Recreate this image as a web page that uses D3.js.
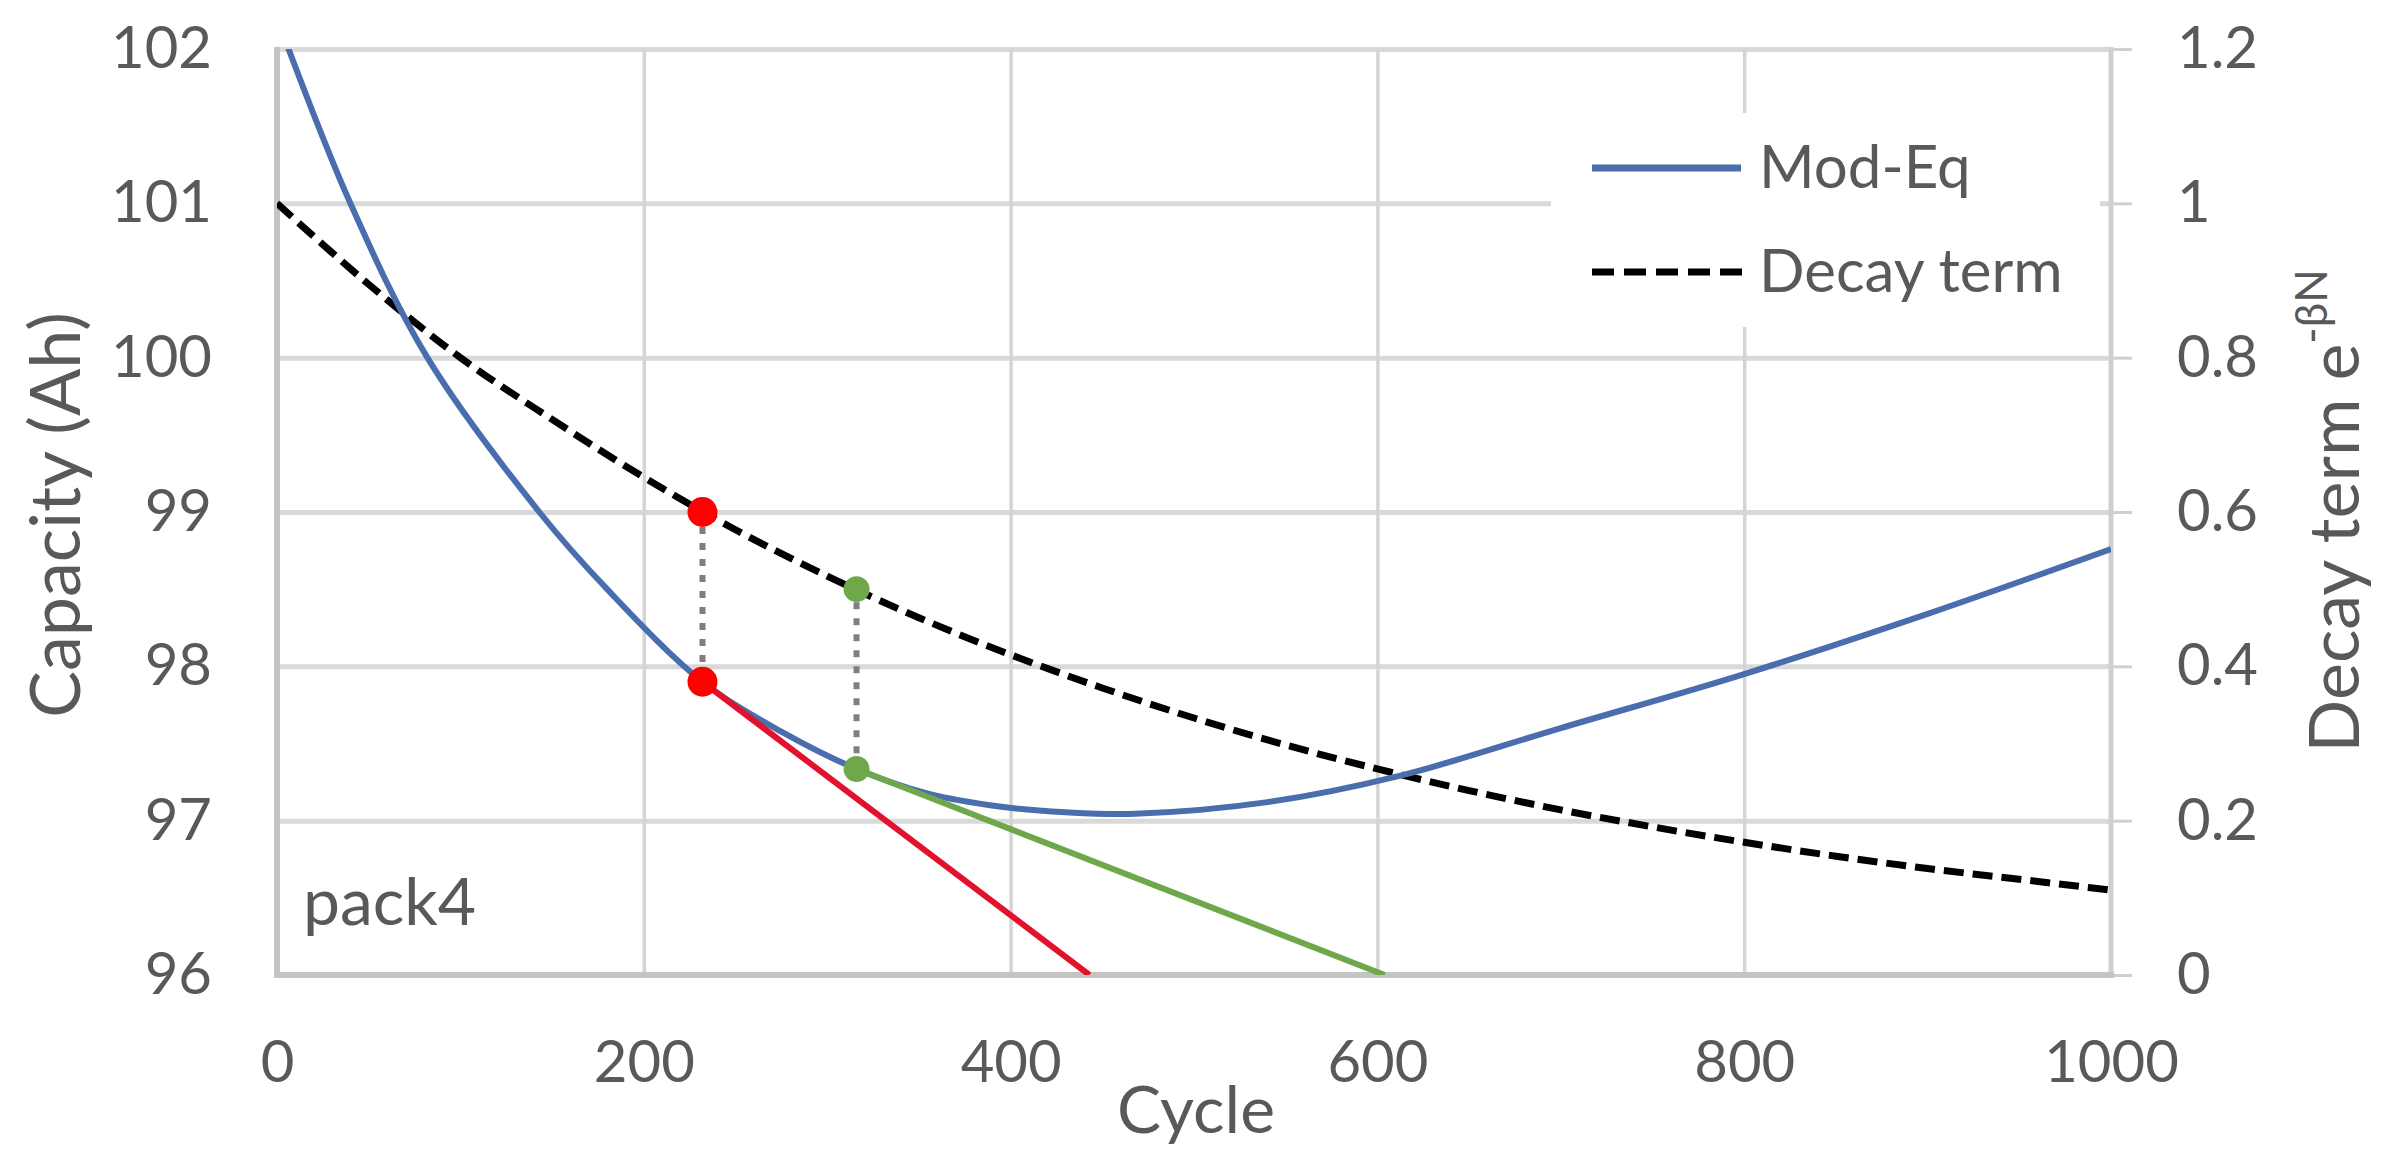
<!DOCTYPE html>
<html>
<head>
<meta charset="utf-8">
<script src="https://cdn.jsdelivr.net/npm/d3@7"></script>
<style>
  html, body { margin: 0; padding: 0; background: #ffffff; }
  svg { display: block; }
  text { font-family: Lato, "Open Sans", sans-serif; fill: #595959; }
</style>
</head>
<body>
<svg id="chart" width="2392" height="1173"></svg>
<script>
// ---------------- DATA ----------------
const xTicks = [0, 200, 400, 600, 800, 1000];
const yLeftTicks = [96, 97, 98, 99, 100, 101, 102];
const yRightTicks = [0, 0.2, 0.4, 0.6, 0.8, 1.0, 1.2];
const yRightLabels = ["0", "0.2", "0.4", "0.6", "0.8", "1", "1.2"];

// Mod-Eq capacity curve (Ah)
const modEqCycles = [0, 40, 82, 143, 180, 232, 276, 316, 355, 395, 430, 468, 540, 612, 700, 800, 900, 1000];
const modEqCap    = [102.2, 101.0, 100.0, 99.0, 98.5, 97.9, 97.57, 97.335, 97.175, 97.09, 97.055, 97.045, 97.12, 97.29, 97.6, 97.95, 98.34, 98.76];

// Decay term (right axis)
const decayCycles = [0, 50, 100, 150, 200, 250, 300, 350, 400, 450, 500, 550, 600, 650, 700, 750, 800, 850, 900, 950, 1000];
const decayValue  = [1.0, 0.895, 0.80, 0.72, 0.645, 0.577, 0.517, 0.463, 0.415, 0.372, 0.333, 0.298, 0.267, 0.239, 0.214, 0.192, 0.172, 0.154, 0.138, 0.124, 0.110];

// Tangent lines (Ah)
const redCycles = [232, 443];
const redCap    = [97.9, 96.0];
const greenCycles = [316, 604];
const greenCap    = [97.335, 96.0];

// Marker points: [cycle, capacity on Mod-Eq, decay value]
const redPoint   = [232, 97.9, 0.6];
const greenPoint = [316, 97.335, 0.5];

const legendLabels = ["Mod-Eq", "Decay term"];
const packLabel = "pack4";

// ---------------- CHART ----------------
const svg = d3.select("#chart");
const L = 277, R = 2111, T = 49, B = 975;

const x  = d3.scaleLinear().domain([0, 1000]).range([L, R]);
const yL = d3.scaleLinear().domain([96, 102]).range([B, T]);
const yR = d3.scaleLinear().domain([0, 1.2]).range([B, T]);

const blue = "#4A6DAD", red = "#E3122C", redDot = "#FF0000", green = "#6FA84A";

svg.append("clipPath").attr("id", "plotclip")
  .append("rect").attr("x", L).attr("y", T).attr("width", R - L).attr("height", B - T);

// horizontal gridlines
svg.append("g")
  .attr("transform", `translate(${L},0)`)
  .call(d3.axisLeft(yL).tickValues(yLeftTicks).tickSize(-(R - L)).tickFormat(""))
  .call(g => g.select(".domain").remove())
  .call(g => g.selectAll("line").attr("stroke", "#d9d9d9").attr("stroke-width", 5));

// vertical gridlines
svg.append("g")
  .attr("transform", `translate(0,${B})`)
  .call(d3.axisBottom(x).tickValues(xTicks.filter(d => d > 0 && d < 1000)).tickSize(-(B - T)).tickFormat(""))
  .call(g => g.select(".domain").remove())
  .call(g => g.selectAll("line").attr("stroke", "#d4d4d4").attr("stroke-width", 3.5));

// left tick labels
svg.append("g")
  .attr("transform", `translate(${L},0)`)
  .call(d3.axisLeft(yL).tickValues(yLeftTicks).tickSize(0).tickPadding(65).tickFormat(d3.format("d")))
  .call(g => g.select(".domain").remove())
  .call(g => g.selectAll("text").attr("font-size", 58).attr("font-family", "Lato").attr("fill", "#595959"));

// bottom tick labels
svg.append("g")
  .attr("transform", `translate(0,${B})`)
  .call(d3.axisBottom(x).tickValues(xTicks).tickSize(0).tickPadding(66).tickFormat(d3.format("d")))
  .call(g => g.select(".domain").remove())
  .call(g => g.selectAll("text").attr("font-size", 58).attr("font-family", "Lato").attr("fill", "#595959"));

// right axis with ticks
svg.append("g")
  .attr("transform", `translate(${R},0)`)
  .call(d3.axisRight(yR).tickValues(yRightTicks).tickSize(21).tickPadding(45)
        .tickFormat((d, i) => yRightLabels[i]))
  .call(g => g.select(".domain").remove())
  .call(g => g.selectAll("line").attr("stroke", "#cfcfcf").attr("stroke-width", 3))
  .call(g => g.selectAll("text").attr("font-size", 58).attr("font-family", "Lato").attr("fill", "#595959"));

// axis lines
svg.append("line").attr("x1", L).attr("x2", L).attr("y1", T - 2).attr("y2", B + 3)
  .attr("stroke", "#c4c4c4").attr("stroke-width", 6);
svg.append("line").attr("x1", R).attr("x2", R).attr("y1", T - 2).attr("y2", B + 3)
  .attr("stroke", "#cfcfcf").attr("stroke-width", 5);
svg.append("line").attr("x1", L - 3).attr("x2", R + 3).attr("y1", B).attr("y2", B)
  .attr("stroke", "#c4c4c4").attr("stroke-width", 6);

// legend background (covers gridlines)
svg.append("rect").attr("x", 1551).attr("y", 113).attr("width", 549).attr("height", 214).attr("fill", "#ffffff");

const plot = svg.append("g").attr("clip-path", "url(#plotclip)");

// decay term (right axis)
const decayLine = d3.line().curve(d3.curveMonotoneX)
  .x((d, i) => x(decayCycles[i])).y(d => yR(d));
plot.append("path").datum(decayValue)
  .attr("d", decayLine)
  .attr("fill", "none").attr("stroke", "#000").attr("stroke-width", 7)
  .attr("stroke-dasharray", "20,9");

// Mod-Eq
const modLine = d3.line().curve(d3.curveCatmullRom.alpha(0.5))
  .x((d, i) => x(modEqCycles[i])).y(d => yL(d));
plot.append("path").datum(modEqCap)
  .attr("d", modLine)
  .attr("fill", "none").attr("stroke", blue).attr("stroke-width", 6);

// tangent lines
const redLine = d3.line().x((d, i) => x(redCycles[i])).y(d => yL(d));
plot.append("path").datum(redCap).attr("d", redLine)
  .attr("fill", "none").attr("stroke", red).attr("stroke-width", 6);
const greenLine = d3.line().x((d, i) => x(greenCycles[i])).y(d => yL(d));
plot.append("path").datum(greenCap).attr("d", greenLine)
  .attr("fill", "none").attr("stroke", green).attr("stroke-width", 6);

// connectors + dots
[[redPoint, redDot, 15], [greenPoint, green, 13]].forEach(([p, col, r]) => {
  svg.append("line")
    .attr("x1", x(p[0])).attr("x2", x(p[0]))
    .attr("y1", yR(p[2]) + r).attr("y2", yL(p[1]) - r)
    .attr("stroke", "#7f7f7f").attr("stroke-width", 6).attr("stroke-dasharray", "7,9");
  svg.append("circle").attr("cx", x(p[0])).attr("cy", yR(p[2])).attr("r", r).attr("fill", col);
  svg.append("circle").attr("cx", x(p[0])).attr("cy", yL(p[1])).attr("r", r).attr("fill", col);
});

// legend
svg.append("line").attr("x1", 1592).attr("x2", 1741).attr("y1", 168).attr("y2", 168)
  .attr("stroke", blue).attr("stroke-width", 7);
svg.append("text").attr("x", 1759).attr("y", 188).attr("font-size", 60).text(legendLabels[0]);
svg.append("line").attr("x1", 1592).attr("x2", 1742).attr("y1", 272).attr("y2", 272)
  .attr("stroke", "#000").attr("stroke-width", 7).attr("stroke-dasharray", "22,10");
svg.append("text").attr("x", 1759).attr("y", 292).attr("font-size", 60).text(legendLabels[1]);

// pack label
svg.append("text").attr("x", 303).attr("y", 925).attr("font-size", 66).text(packLabel);

// axis titles
svg.append("text").attr("x", 1196).attr("y", 1133).attr("text-anchor", "middle")
  .attr("font-size", 66).text("Cycle");
svg.append("text").attr("transform", "translate(80,515) rotate(-90)")
  .attr("text-anchor", "middle").attr("font-size", 70).text("Capacity (Ah)");
const rt = svg.append("text").attr("transform", "translate(2359,511) rotate(-90)")
  .attr("text-anchor", "middle").attr("font-size", 70);
rt.append("tspan").text("Decay term e");
rt.append("tspan").attr("font-size", 44).attr("dy", -32).text("-βN");
</script>
</body>
</html>
